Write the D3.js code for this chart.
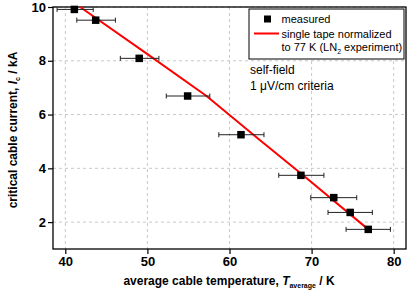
<!DOCTYPE html>
<html>
<head>
<meta charset="utf-8">
<script src="https://cdn.jsdelivr.net/npm/d3@7"></script>
<style>
  body { margin: 0; background: #fff; }
  svg text { font-family: "Liberation Sans", Arial, Helvetica, sans-serif; }
</style>
</head>
<body>
<div id="chart"></div>
<script>
// measured points: temperature (K), critical current (kA), error bar low/high (K)
const tempAvg = [41.1, 43.7, 49.0, 54.9, 61.4, 68.7, 72.7, 74.7, 76.9];
const currentIc = [9.91, 9.51, 8.09, 6.69, 5.25, 3.74, 2.91, 2.36, 1.73];
const tempLow = [39.0, 41.4, 46.7, 52.3, 58.7, 66.0, 69.9, 72.0, 74.2];
const tempHigh = [43.4, 46.1, 51.4, 57.6, 64.2, 71.5, 75.5, 77.4, 79.6];

// single tape normalized curve
const curveT = [41.8, 50.0, 57.2, 63.5, 69.0, 76.9];
const curveIc = [10.0, 8.25, 6.69, 5.10, 3.73, 1.73];

const xTicks = [40, 50, 60, 70, 80];
const yTicks = [2, 4, 6, 8, 10];

const width = 415;
const height = 294;
const margin = { top: 7, right: 9, bottom: 45, left: 53 };
const innerWidth = width - margin.left - margin.right;
const innerHeight = height - margin.top - margin.bottom;

const svg = d3.select("#chart")
  .append("svg")
  .attr("width", width)
  .attr("height", height);

const g = svg.append("g")
  .attr("transform", `translate(${margin.left}, ${margin.top})`);

const xScale = d3.scaleLinear().domain([38.5, 81.5]).range([0, innerWidth]);
const yScale = d3.scaleLinear().domain([1, 10]).range([innerHeight, 0]);

// grid
g.append("g").selectAll("line")
  .data(xTicks)
  .enter().append("line")
  .attr("x1", d => xScale(d)).attr("x2", d => xScale(d))
  .attr("y1", 0).attr("y2", innerHeight)
  .attr("stroke", "#c8c8c8").attr("stroke-dasharray", "3,3");
g.append("g").selectAll("line")
  .data(yTicks)
  .enter().append("line")
  .attr("x1", 0).attr("x2", innerWidth)
  .attr("y1", d => yScale(d)).attr("y2", d => yScale(d))
  .attr("stroke", "#c8c8c8").attr("stroke-dasharray", "3,3");

// axes
const xAxis = d3.axisBottom(xScale).tickValues(xTicks).tickSize(5).tickPadding(3);
const xg = g.append("g")
  .attr("transform", `translate(0, ${innerHeight})`)
  .call(xAxis);
const yAxis = d3.axisLeft(yScale).tickValues(yTicks).tickSize(5).tickPadding(2);
const yg = g.append("g").call(yAxis);

[xg, yg].forEach(a => {
  a.select(".domain").remove();
  a.selectAll("line").attr("stroke", "#000").attr("stroke-width", 1.2);
  a.selectAll("text")
    .attr("fill", "#000")
    .style("font-size", "13px")
    .style("font-weight", "bold");
});

// frame
g.append("rect")
  .attr("x", 0).attr("y", 0)
  .attr("width", innerWidth).attr("height", innerHeight)
  .attr("fill", "none")
  .attr("stroke", "#000")
  .attr("stroke-width", 1.3);

// red curve
const line = d3.line()
  .x(d => xScale(d[0]))
  .y(d => yScale(d[1]));
g.append("path")
  .datum(d3.zip(curveT, curveIc))
  .attr("d", line)
  .attr("fill", "none")
  .attr("stroke", "#ff0000")
  .attr("stroke-width", 2);

// error bars
const pts = tempAvg.map((t, i) => ({ t: t, ic: currentIc[i], lo: tempLow[i], hi: tempHigh[i] }));
const eb = g.append("g").attr("stroke", "#222").attr("stroke-width", 1);
eb.selectAll(".bar").data(pts).enter().append("line")
  .attr("x1", d => xScale(d.lo)).attr("x2", d => xScale(d.hi))
  .attr("y1", d => yScale(d.ic)).attr("y2", d => yScale(d.ic));
eb.selectAll(".capl").data(pts).enter().append("line")
  .attr("x1", d => xScale(d.lo)).attr("x2", d => xScale(d.lo))
  .attr("y1", d => yScale(d.ic) - 2.5).attr("y2", d => yScale(d.ic) + 2.5);
eb.selectAll(".caph").data(pts).enter().append("line")
  .attr("x1", d => xScale(d.hi)).attr("x2", d => xScale(d.hi))
  .attr("y1", d => yScale(d.ic) - 2.5).attr("y2", d => yScale(d.ic) + 2.5);

// markers
const sq = 7.5;
g.selectAll(".dot").data(pts).enter().append("rect")
  .attr("x", d => xScale(d.t) - sq / 2)
  .attr("y", d => yScale(d.ic) - sq / 2)
  .attr("width", sq).attr("height", sq)
  .attr("fill", "#000");

// legend
const lg = svg.append("g").attr("transform", "translate(249, 9)");
lg.append("rect")
  .attr("width", 155).attr("height", 50)
  .attr("fill", "#fff").attr("stroke", "#000").attr("stroke-width", 1);
lg.append("rect").attr("x", 15).attr("y", 6.5).attr("width", 7).attr("height", 7).attr("fill", "#000");
lg.append("line").attr("x1", 5).attr("x2", 30).attr("y1", 24.5).attr("y2", 24.5)
  .attr("stroke", "#ff0000").attr("stroke-width", 2);
lg.append("text").attr("x", 32.5).attr("y", 14).style("font-size", "11px").text("measured");
lg.append("text").attr("x", 32.5).attr("y", 28.5).style("font-size", "11px").text("single tape normalized");
const t3 = lg.append("text").attr("x", 32.5).attr("y", 42).style("font-size", "11px");
t3.append("tspan").text("to 77 K (LN");
t3.append("tspan").attr("dy", 3).style("font-size", "7px").text("2");
t3.append("tspan").attr("dy", -3).text(" experiment)");

// annotation
svg.append("text").attr("x", 250).attr("y", 74).style("font-size", "12px").text("self-field");
svg.append("text").attr("x", 250).attr("y", 90).style("font-size", "12px").text("1 \u03bcV/cm criteria");

// axis titles
const xt = svg.append("text")
  .attr("x", 229).attr("y", 285)
  .attr("text-anchor", "middle")
  .style("font-size", "12px").style("font-weight", "bold");
xt.append("tspan").text("average cable temperature, ");
xt.append("tspan").style("font-style", "italic").text("T");
xt.append("tspan").attr("dy", 3).style("font-size", "7px").text("average");
xt.append("tspan").attr("dy", -3).text(" / K");

const yt = svg.append("text")
  .attr("transform", "translate(17, 130) rotate(-90)")
  .attr("text-anchor", "middle")
  .style("font-size", "12px").style("font-weight", "bold");
yt.append("tspan").text("critical cable current, ");
yt.append("tspan").style("font-style", "italic").text("I");
yt.append("tspan").attr("dy", 3).style("font-size", "7px").text("c");
yt.append("tspan").attr("dy", -3).text(" / kA");
</script>
</body>
</html>
